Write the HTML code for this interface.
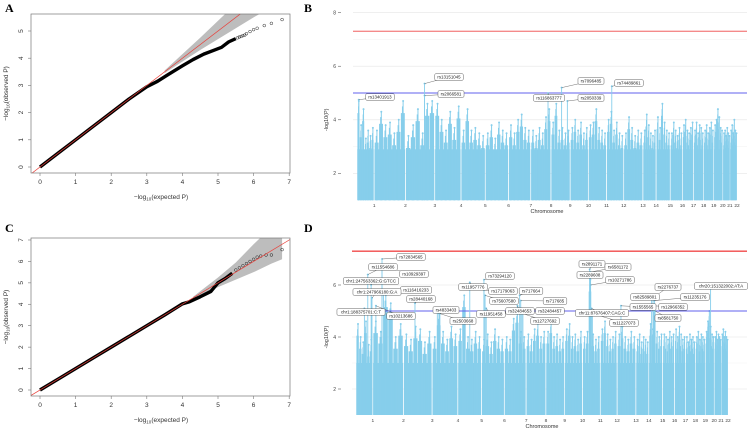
<!DOCTYPE html>
<html><head><meta charset="utf-8"><style>
html,body{margin:0;padding:0;background:#fff;}
svg{display:block;font-family:"Liberation Sans",sans-serif;}
</style></head><body>
<svg id="fig" width="750" height="428" viewBox="0 0 750 428" xmlns="http://www.w3.org/2000/svg">
<text x="5" y="12" font-family="Liberation Serif" font-weight="bold" font-size="12">A</text>
<text x="304" y="12" font-family="Liberation Serif" font-weight="bold" font-size="12">B</text>
<text x="5" y="232" font-family="Liberation Serif" font-weight="bold" font-size="12">C</text>
<text x="304" y="232" font-family="Liberation Serif" font-weight="bold" font-size="12">D</text>
<g id="gA"></g>
<g id="gC"></g>
<g id="gB"></g>
<g id="gD"></g>
</svg>
<script>
// ---------- data ----------
const qqA_exp = [0,0.5,1,1.5,2,2.5,3,3.3,3.6,4,4.3,4.6,4.9,5.1,5.3,5.5];
const qqA_obs = [0,0.5,1,1.5,2,2.5,2.95,3.15,3.4,3.72,3.95,4.15,4.3,4.4,4.6,4.72];
const qqA_tailExp = [5.55,5.6,5.65,5.7,5.75,5.8,5.9,6.0,6.1,6.3,6.5,6.8];
const qqA_tailObs = [4.75,4.78,4.8,4.83,4.85,4.9,4.98,5.05,5.1,5.2,5.28,5.42];
const qqC_exp = [0,0.5,1,1.5,2,2.5,3,3.5,4,4.2,4.5,4.8,5,5.2,5.4];
const qqC_obs = [0,0.5,1,1.5,2,2.5,3,3.5,4.02,4.12,4.35,4.6,5.0,5.2,5.45];
const qqC_tailExp = [5.5,5.6,5.7,5.8,5.9,6.0,6.1,6.2,6.35,6.5,6.8];
const qqC_tailObs = [5.6,5.7,5.8,5.9,6.0,6.1,6.2,6.25,6.3,6.3,6.55];
const qqTicksX = [0,1,2,3,4,5,6,7];
const qqTicksYA = [0,1,2,3,4,5];
const qqTicksYC = [0,1,2,3,4,5,6,7];

const chrNames = ["1","2","3","4","5","6","7","8","9","10","11","12","13","14","15","16","17","18","19","20","21","22"];
const chrSize = [17,31,29,26,24,23,22,20,19,18,18,17,19,13,14,12,11,10,10,9,7,7];
const peaksB = [
[4.7,3.8,4.4,3.3,3.6,3.4,3.7],[3.6,4.3,3.8,3.9,3.5,4.0,4.7],[3.4,3.8,4.4,3.5,4.6,4.7],[4.6,4.0,3.6,4.3,3.7,4.5],
[3.6,4.4,3.6,3.7,3.5,3.4],[3.5,3.8,3.3,3.9,3.6,3.5],[3.8,3.5,4.0,4.2,3.7,3.6],[3.6,3.4,3.7,3.5,4.1,4.4],
[3.9,4.6,3.6,3.7,3.5,3.6],[3.7,4.0,3.6,3.9,3.5,3.7],[3.8,3.9,4.4,3.7,3.6,3.5],[4.0,4.3,3.6,3.9,3.5,3.4],
[3.5,4.1,3.7,3.4,3.6,3.5],[3.6,4.2,3.8,3.5,3.4,3.6],[4.1,3.7,4.6,3.9,3.6,3.5],[3.5,3.9,3.6,3.4,3.7,3.5],
[3.8,4.0,3.6,3.5,3.7,3.9],[3.6,3.9,3.5,3.8,3.7,3.5],[3.6,3.8,3.5,3.7,3.9,3.6],[3.8,4.0,4.4,4.1,3.7,3.6],
[3.5,3.6,3.4,3.7,3.5,3.4],[3.6,3.8,3.5,4.0,3.6,3.5]];
const peaksD = [
[4.5,4.0,3.8,4.6,3.7,3.9],[4.6,4.2,5.6,5.3,4.0,4.5],[4.1,3.9,4.4,4.3,3.8,4.2],[4.0,4.9,4.2,3.9,4.4,4.1],
[4.3,5.6,4.0,3.9,4.2,4.0],[3.9,4.1,3.8,4.3,4.0,3.9],[4.0,3.9,4.7,5.0,4.2,4.0],[4.1,3.9,4.3,4.5,4.0,4.2],
[4.2,4.6,4.0,4.1,3.9,4.0],[4.3,4.5,4.0,4.1,3.9,4.2],[4.0,4.2,6.2,4.1,3.9,4.0],[4.3,4.6,4.1,3.9,4.0,4.2],
[4.1,4.4,4.0,3.9,4.2,4.0],[3.9,4.1,3.8,4.0,3.9,3.8],[4.5,4.3,4.6,4.2,4.0,4.1],[4.1,4.0,3.9,4.2,4.0,4.1],
[4.3,4.0,4.4,4.1,3.9,4.0],[4.0,3.8,4.1,3.9,4.0,3.8],[4.0,4.2,3.9,4.1,4.0,3.9],[4.2,4.6,5.0,4.4,4.1,4.0],
[4.0,4.2,3.9,4.1,4.0,3.9],[4.1,4.3,4.0,4.2,4.0,3.9]];
const hitsB = [
{chr:0,f:0.1,p:4.75,lab:"rs13401913",lx:380,ly:97},
{chr:2,f:0.65,p:5.35,lab:"rs13151045",lx:449,ly:77},
{chr:2,f:0.65,p:4.9,lab:"rs2066581",lx:451,ly:94},
{chr:7,f:0.85,p:5.0,lab:"rs116863777",lx:549,ly:98},
{chr:8,f:0.55,p:5.2,lab:"rs7096485",lx:591,ly:81},
{chr:8,f:0.85,p:4.7,lab:"rs2050339",lx:591,ly:98},
{chr:11,f:0.3,p:5.25,lab:"rs74489861",lx:629,ly:83}];
const hitsD = [
{chr:1,f:0.3,p:7.0,lab:"rs72834565",lx:411,ly:257},
{chr:0,f:0.7,p:6.4,lab:"rs11554686",lx:383,ly:267},
{chr:1,f:0.3,p:6.7,lab:"rs10929397",lx:414,ly:274},
{chr:0,f:0.9,p:6.0,lab:"chr1:247563362:G:GTCC",lx:371,ly:281},
{chr:1,f:0.35,p:5.8,lab:"rs116416233",lx:416,ly:290},
{chr:0,f:0.95,p:5.5,lab:"chr1:247966180:G:A",lx:377,ly:292},
{chr:2,f:0.4,p:5.3,lab:"rs28440168",lx:421,ly:299},
{chr:0,f:0.5,p:5.1,lab:"chr1:188375701:C:T",lx:361,ly:312},
{chr:1,f:0.1,p:5.2,lab:"rs10213686",lx:401,ly:316},
{chr:3,f:0.2,p:5.0,lab:"rs4833403",lx:446,ly:310},
{chr:3,f:0.3,p:4.9,lab:"rs2503668",lx:463,ly:321},
{chr:4,f:0.5,p:6.1,lab:"rs11957776",lx:473,ly:287},
{chr:5,f:0.1,p:6.2,lab:"rs73294120",lx:500,ly:276},
{chr:5,f:0.1,p:5.8,lab:"rs17179063",lx:503,ly:291},
{chr:5,f:0.15,p:5.6,lab:"rs75607580",lx:504,ly:301},
{chr:5,f:0.2,p:5.1,lab:"rs11951458",lx:491,ly:314},
{chr:6,f:0.6,p:5.2,lab:"rs32484653",lx:520,ly:311},
{chr:6,f:0.7,p:5.6,lab:"rs717664",lx:531,ly:291},
{chr:6,f:0.75,p:5.4,lab:"rs717685",lx:555,ly:301},
{chr:6,f:0.8,p:5.1,lab:"rs32484457",lx:550,ly:311},
{chr:6,f:0.85,p:4.9,lab:"rs12727692",lx:545,ly:321},
{chr:10,f:0.4,p:6.6,lab:"rs2891171",lx:592,ly:264},
{chr:10,f:0.4,p:6.3,lab:"rs2289608",lx:590,ly:275},
{chr:10,f:0.45,p:6.5,lab:"rs6581172",lx:618,ly:267},
{chr:10,f:0.45,p:6.0,lab:"rs10271786",lx:620,ly:280},
{chr:10,f:0.5,p:5.1,lab:"chr11:87676407:CAG:C",lx:602,ly:313},
{chr:10,f:0.55,p:4.9,lab:"rs11227073",lx:624,ly:323},
{chr:12,f:0.2,p:5.2,lab:"rs1555565",lx:643,ly:307},
{chr:14,f:0.2,p:5.5,lab:"rs82589801",lx:645,ly:297},
{chr:14,f:0.3,p:5.5,lab:"rs2276737",lx:668,ly:287},
{chr:14,f:0.4,p:5.4,lab:"rs11235176",lx:695,ly:297},
{chr:14,f:0.35,p:5.2,lab:"rs12966352",lx:673,ly:307},
{chr:14,f:0.45,p:5.0,lab:"rs8581750",lx:668,ly:318},
{chr:19,f:0.6,p:5.9,lab:"chr20:151322002:AT:A",lx:721,ly:286}];
const ticksB = [2,4,6,8];
const ticksD = [2,4,6];

// ---------- helpers ----------
const NS="http://www.w3.org/2000/svg";
function mk(parent,tag,attrs,txt){const e=document.createElementNS(NS,tag);for(const k in attrs)e.setAttribute(k,attrs[k]);if(txt!==undefined)e.textContent=txt;parent.appendChild(e);return e;}

// ---------- QQ plots ----------
function drawQQ(g,top,bottom,zeroY,unitY,yTicks,ymax,exp,obs,texp,tobs,bandStart,bandData){
  const xs=v=>40+v*35.6, ys=v=>zeroY-v*unitY;
  const clip=mk(g,"clipPath",{id:g.id+"clip"});
  mk(clip,"rect",{x:31,y:top,width:259,height:bottom-top});
  const inner=mk(g,"g",{"clip-path":"url(#"+g.id+"clip)"});
  let up=[],lo=[];
  bandData.forEach(b=>{up.push(xs(b[0])+","+ys(b[1]));lo.unshift(xs(b[0])+","+ys(b[2]));});
  const band=mk(inner,"polygon",{points:up.concat(lo).join(" "),fill:"#bdbdbd"});
  
  
  const pts=exp.map((e,i)=>xs(e)+","+ys(obs[i])).join(" ");
  const dense=mk(inner,"polyline",{points:pts,fill:"none",stroke:"#000","stroke-width":3.4,"stroke-linejoin":"round"});
  
  
  texp.forEach((e,i)=>{
    const c=mk(inner,"circle",{cx:xs(e),cy:ys(tobs[i]),r:1.4,fill:"none",stroke:"#222","stroke-width":0.5});
    
    
  });
  const ref=mk(inner,"line",{x1:xs(-1),y1:ys(-1),x2:xs(9),y2:ys(9),stroke:"#e8403a","stroke-width":0.7});
  
  
  const box=mk(g,"rect",{x:31,y:top,width:259,height:bottom-top,fill:"none",stroke:"#777","stroke-width":0.7});
  
  
  qqTicksX.forEach(t=>{
    mk(g,"line",{x1:xs(t),x2:xs(t),y1:bottom,y2:bottom+3,stroke:"#777","stroke-width":0.6});
    const tx=mk(g,"text",{x:xs(t),y:bottom+11,"font-size":6.5,fill:"#333","text-anchor":"middle"},String(t));
    
    
  });
  yTicks.forEach(t=>{
    mk(g,"line",{x1:31,x2:28,y1:ys(t),y2:ys(t),stroke:"#777","stroke-width":0.6});
    const tx=mk(g,"text",{x:0,y:0,"font-size":6.5,fill:"#333","text-anchor":"middle",transform:"translate(23,"+ys(t)+") rotate(-90)"},String(t));
    
    
  });
  const xt=mk(g,"text",{x:161,y:bottom+26,"font-size":6.5,fill:"#333","text-anchor":"middle"});
  xt.innerHTML='\u2212log<tspan font-size="4.5" dy="1.5">10</tspan><tspan dy="-1.5">(expected P)</tspan>';
  
  
  const yt=mk(g,"text",{x:0,y:0,"font-size":6.5,fill:"#333","text-anchor":"middle",transform:"translate(8,"+((top+bottom)/2)+") rotate(-90)"});
  yt.innerHTML='\u2212log<tspan font-size="4.5" dy="1.5">10</tspan><tspan dy="-1.5">(observed P)</tspan>';
  
  
}
drawQQ(document.getElementById("gA"),14,173,167,27.2,qqTicksYA,5.6,qqA_exp,qqA_obs,qqA_tailExp,qqA_tailObs,3.5,
  [[3.5,3.55,3.45],[4.5,4.75,4.3],[5.5,6.0,5.1],[6,6.6,5.5],[7.2,8.2,6.4]]);
drawQQ(document.getElementById("gC"),238,396,390,21.43,qqTicksYC,7.1,qqC_exp,qqC_obs,qqC_tailExp,qqC_tailObs,4.3,
  [[4.3,4.35,4.25],[5,5.25,4.8],[5.5,5.95,5.15],[6,6.8,5.5],[6.5,7.6,5.9],[6.8,8,6.1]]);

// ---------- Manhattan ----------
function drawMan(g,x0,x1,zeroY,unit,bottomV,redCol,ticks,minor,peaks,base,hits){
  const ys=v=>zeroY-v*unit;
  const tot=chrSize.reduce((a,b)=>a+b,0);
  const sx=(x1-x0)/tot;
  minor.forEach(t=>mk(g,"line",{x1:x0-4,x2:747,y1:ys(t),y2:ys(t),stroke:"#f2f2f2","stroke-width":0.5}));
  ticks.forEach(t=>{
    mk(g,"line",{x1:x0-4,x2:747,y1:ys(t),y2:ys(t),stroke:"#e6e6e6","stroke-width":0.6});
    mk(g,"line",{x1:338,x2:341,y1:ys(t),y2:ys(t),stroke:"#444","stroke-width":0.5});
    const tx=mk(g,"text",{x:336,y:ys(t)+1.8,"font-size":5,fill:"#444","text-anchor":"end"},String(t));
    
    
  });
  let cx=x0; const starts=[];
  const col="#87ceeb";
  chrSize.forEach((s,i)=>{
    const w=s*sx; starts.push(cx);
    const b=mk(g,"rect",{x:cx+0.3,y:ys(base),width:Math.max(w-0.8,0.5),height:ys(bottomV)-ys(base),fill:col});
    
    
    const pk=peaks[i], n=pk.length, cw=(w-0.8)/n;
    pk.forEach((p,j)=>{
      const px=cx+0.3+j*cw;
      mk(g,"rect",{x:px+cw*0.05,y:ys(p-0.45),width:cw*0.9,height:ys(bottomV)-ys(p-0.45),fill:col});
      mk(g,"rect",{x:px+cw*0.3,y:ys(p-0.2),width:cw*0.35,height:ys(bottomV)-ys(p-0.2),fill:col});
      const sp=mk(g,"rect",{x:px+cw*0.45,y:ys(p),width:1,height:ys(bottomV)-ys(p),fill:col});
      
      
      mk(g,"circle",{cx:px+cw*0.45+0.5,cy:ys(p),r:1,fill:col});
    });
    const lab=mk(g,"text",{x:cx+w,y:ys(bottomV)+7,"font-size":4.8,fill:"#444","text-anchor":"middle"},chrNames[i]);
    
    
    cx+=w;
  });
  const red=mk(g,"line",{x1:x0-4,x2:747,y1:ys(7.3),y2:ys(7.3),stroke:redCol,"stroke-width":1.4});
  
  
  const blue=mk(g,"line",{x1:x0-4,x2:747,y1:ys(5),y2:ys(5),stroke:"#6060ee","stroke-width":0.9});
  
  
  hits.forEach(h=>{
    const hx=starts[h.chr]+chrSize[h.chr]*sx*h.f, hy=ys(h.p);
    mk(g,"rect",{x:hx-0.45,y:hy,width:0.9,height:ys(bottomV)-hy,fill:col});
    const c=mk(g,"circle",{cx:hx,cy:hy,r:1,fill:col});
    
    
  });
  hits.forEach(h=>{
    const hx=starts[h.chr]+chrSize[h.chr]*sx*h.f, hy=ys(h.p);
    mk(g,"line",{x1:hx,y1:hy,x2:h.lx,y2:h.ly,stroke:"#333","stroke-width":0.35});
  });
  hits.forEach(h=>{
    const bw=h.lab.length*2.45+4;
    const r=mk(g,"rect",{x:h.lx-bw/2,y:h.ly-3.3,width:bw,height:6.6,rx:1.2,fill:"#fff",stroke:"#555","stroke-width":0.45});
    
    
    const t=mk(g,"text",{x:h.lx,y:h.ly+1.6,"font-size":4.4,fill:"#222","text-anchor":"middle"},h.lab);
    
    
  });
  const xt=mk(g,"text",{x:(x0+x1)/2,y:ys(bottomV)+13,"font-size":5.5,fill:"#333","text-anchor":"middle"},"Chromosome");
  
  
  const yt=mk(g,"text",{x:0,y:0,"font-size":5.5,fill:"#333","text-anchor":"middle",transform:"translate(328,"+ys(4)+") rotate(-90)"},"-log10(P)");
  
  
}
drawMan(document.getElementById("gB"),357,737,227,26.8,1.0,"#f48a8a",ticksB,[3,5,7],peaksB,2.9,hitsB);
drawMan(document.getElementById("gD"),356,728,441,26,1.0,"#f04848",ticksD,[3,5,7],peaksD,3.0,hitsD);
</script>
</body></html>
